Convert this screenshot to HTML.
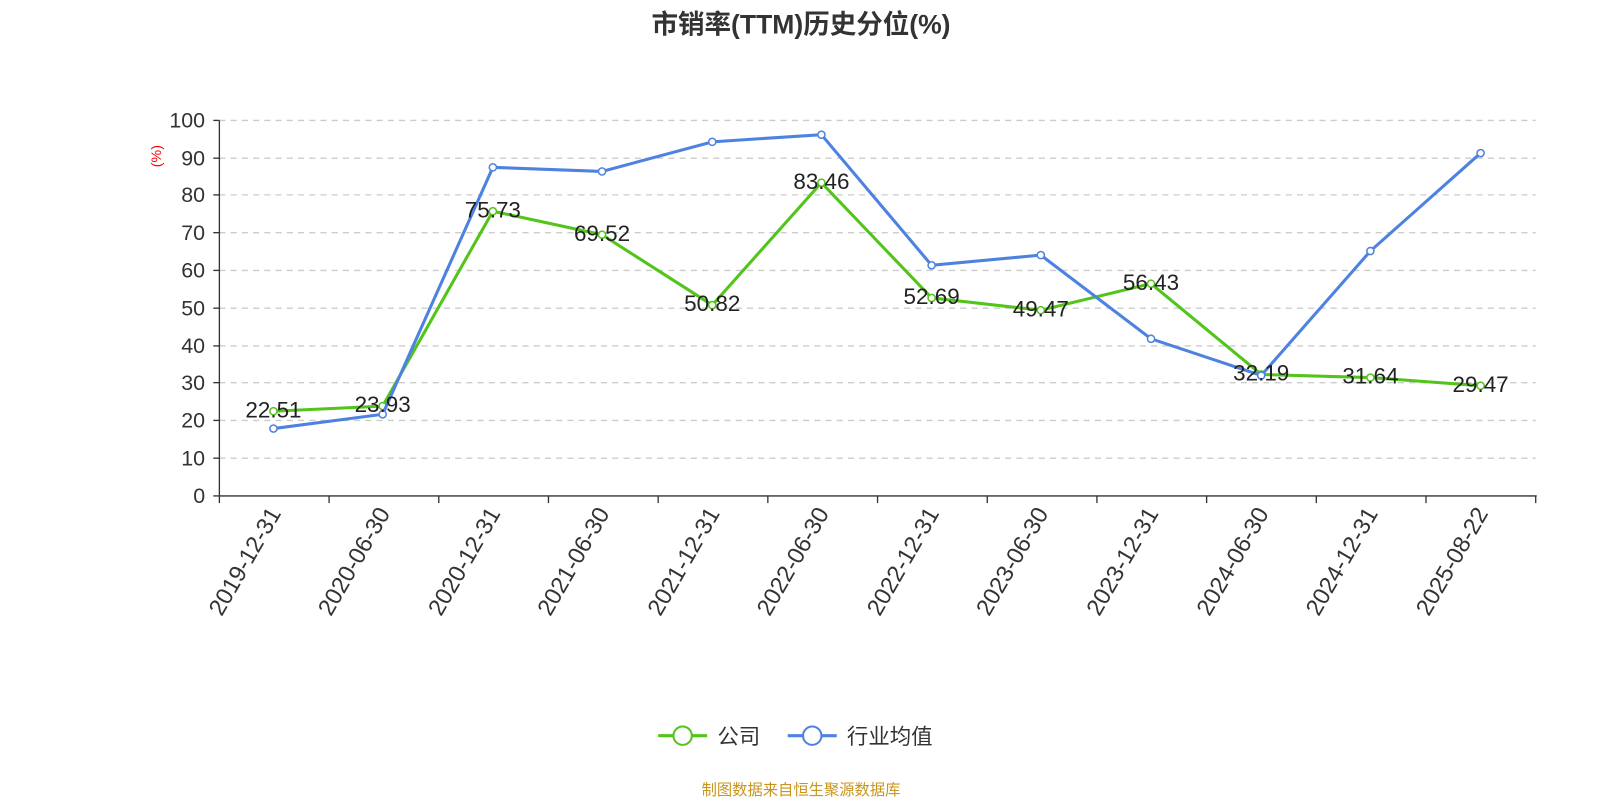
<!DOCTYPE html>
<html><head><meta charset="utf-8"><style>
body{margin:0;background:#fff;}
svg text{font-family:"Liberation Sans","Noto Sans CJK SC",sans-serif;}
</style></head><body>
<svg width="1600" height="800" xmlns="http://www.w3.org/2000/svg">
<g transform="scale(1.0204)">
<text x="785" y="33" text-anchor="middle" font-size="26" font-weight="bold" fill="#333">市销率(TTM)历史分位(%)</text>
<g stroke="#ccc" stroke-dasharray="6,5" stroke-width="1.3">
<line x1="215" x2="1505" y1="118" y2="118"/><line x1="215" x2="1505" y1="155" y2="155"/>
<line x1="215" x2="1505" y1="191" y2="191"/><line x1="215" x2="1505" y1="228" y2="228"/>
<line x1="215" x2="1505" y1="265" y2="265"/><line x1="215" x2="1505" y1="302" y2="302"/>
<line x1="215" x2="1505" y1="339" y2="339"/><line x1="215" x2="1505" y1="375" y2="375"/>
<line x1="215" x2="1505" y1="412" y2="412"/><line x1="215" x2="1505" y1="449" y2="449"/>
</g>
<g stroke="#333" stroke-width="1.3">
<line x1="215" x2="215" y1="118" y2="486"/>
<line x1="215" x2="1506" y1="486" y2="486"/>
<line x1="209" x2="215" y1="118" y2="118"/><line x1="209" x2="215" y1="155" y2="155"/><line x1="209" x2="215" y1="191" y2="191"/><line x1="209" x2="215" y1="228" y2="228"/><line x1="209" x2="215" y1="265" y2="265"/><line x1="209" x2="215" y1="302" y2="302"/><line x1="209" x2="215" y1="339" y2="339"/><line x1="209" x2="215" y1="375" y2="375"/><line x1="209" x2="215" y1="412" y2="412"/><line x1="209" x2="215" y1="449" y2="449"/><line x1="209" x2="215" y1="486" y2="486"/>
<line x1="215" x2="215" y1="486" y2="493"/><line x1="322.5" x2="322.5" y1="486" y2="493"/><line x1="430" x2="430" y1="486" y2="493"/><line x1="537.5" x2="537.5" y1="486" y2="493"/><line x1="645" x2="645" y1="486" y2="493"/><line x1="752.5" x2="752.5" y1="486" y2="493"/><line x1="860" x2="860" y1="486" y2="493"/><line x1="967.5" x2="967.5" y1="486" y2="493"/><line x1="1075" x2="1075" y1="486" y2="493"/><line x1="1182.5" x2="1182.5" y1="486" y2="493"/><line x1="1290" x2="1290" y1="486" y2="493"/><line x1="1397.5" x2="1397.5" y1="486" y2="493"/><line x1="1505" x2="1505" y1="486" y2="493"/>
</g>
<g font-size="21" fill="#333" text-anchor="end">
<text x="201" y="125">100</text><text x="201" y="162">90</text><text x="201" y="198">80</text><text x="201" y="235">70</text><text x="201" y="272">60</text><text x="201" y="309">50</text><text x="201" y="346">40</text><text x="201" y="382">30</text><text x="201" y="419">20</text><text x="201" y="456">10</text><text x="201" y="493">0</text>
</g>
<text x="158" y="153" font-size="14" fill="red" transform="rotate(-90 158 153)" text-anchor="middle">(%)</text>
<g font-size="23" fill="#333" text-anchor="end">
<text transform="translate(276,503) rotate(-60)">2019-12-31</text>
<text transform="translate(383,503) rotate(-60)">2020-06-30</text>
<text transform="translate(491,503) rotate(-60)">2020-12-31</text>
<text transform="translate(598,503) rotate(-60)">2021-06-30</text>
<text transform="translate(706,503) rotate(-60)">2021-12-31</text>
<text transform="translate(813,503) rotate(-60)">2022-06-30</text>
<text transform="translate(921,503) rotate(-60)">2022-12-31</text>
<text transform="translate(1028,503) rotate(-60)">2023-06-30</text>
<text transform="translate(1136,503) rotate(-60)">2023-12-31</text>
<text transform="translate(1244,503) rotate(-60)">2024-06-30</text>
<text transform="translate(1351,503) rotate(-60)">2024-12-31</text>
<text transform="translate(1459,503) rotate(-60)">2025-08-22</text>
</g>
<polyline fill="none" stroke="#52c41a" stroke-width="3" points="268,403 375,398 483,207 590,230 698,299 805,179 913,292 1020,304 1128,278 1236,367 1343,370 1451,378"/>
<g fill="#fff" stroke="#52c41a" stroke-width="1.5">
<circle cx="268" cy="403" r="3.5"/><circle cx="375" cy="398" r="3.5"/><circle cx="483" cy="207" r="3.5"/><circle cx="590" cy="230" r="3.5"/><circle cx="698" cy="299" r="3.5"/><circle cx="805" cy="179" r="3.5"/><circle cx="913" cy="292" r="3.5"/><circle cx="1020" cy="304" r="3.5"/><circle cx="1128" cy="278" r="3.5"/><circle cx="1236" cy="367" r="3.5"/><circle cx="1343" cy="370" r="3.5"/><circle cx="1451" cy="378" r="3.5"/>
</g>
<polyline fill="none" stroke="#4e82e0" stroke-width="3" points="268,420 375,406 483,164 590,168 698,139 805,132 913,260 1020,250 1128,332 1236,368 1343,246 1451,150"/>
<g fill="#fff" stroke="#4e82e0" stroke-width="1.5">
<circle cx="268" cy="420" r="3.5"/><circle cx="375" cy="406" r="3.5"/><circle cx="483" cy="164" r="3.5"/><circle cx="590" cy="168" r="3.5"/><circle cx="698" cy="139" r="3.5"/><circle cx="805" cy="132" r="3.5"/><circle cx="913" cy="260" r="3.5"/><circle cx="1020" cy="250" r="3.5"/><circle cx="1128" cy="332" r="3.5"/><circle cx="1236" cy="368" r="3.5"/><circle cx="1343" cy="246" r="3.5"/><circle cx="1451" cy="150" r="3.5"/>
</g>
<g font-size="22" fill="#222" text-anchor="middle">
<text x="268" y="409">22.51</text><text x="375" y="404">23.93</text><text x="483" y="213">75.73</text><text x="590" y="236">69.52</text><text x="698" y="305">50.82</text><text x="805" y="185">83.46</text><text x="913" y="298">52.69</text><text x="1020" y="310">49.47</text><text x="1128" y="284">56.43</text><text x="1236" y="373">32.19</text><text x="1343" y="376">31.64</text><text x="1451" y="384">29.47</text>
</g>
<line x1="645" x2="693" y1="721" y2="721" stroke="#52c41a" stroke-width="3"/>
<circle cx="669" cy="721" r="9" fill="#fff" stroke="#52c41a" stroke-width="2"/>
<text x="703" y="729" font-size="21" fill="#333">公司</text>
<line x1="772" x2="820" y1="721" y2="721" stroke="#4e82e0" stroke-width="3"/>
<circle cx="796" cy="721" r="9" fill="#fff" stroke="#4e82e0" stroke-width="2"/>
<text x="830" y="729" font-size="21" fill="#333">行业均值</text>
<text x="785" y="779" font-size="15" fill="#c8961e" text-anchor="middle">制图数据来自恒生聚源数据库</text>
</g>
</svg>
</body></html>
